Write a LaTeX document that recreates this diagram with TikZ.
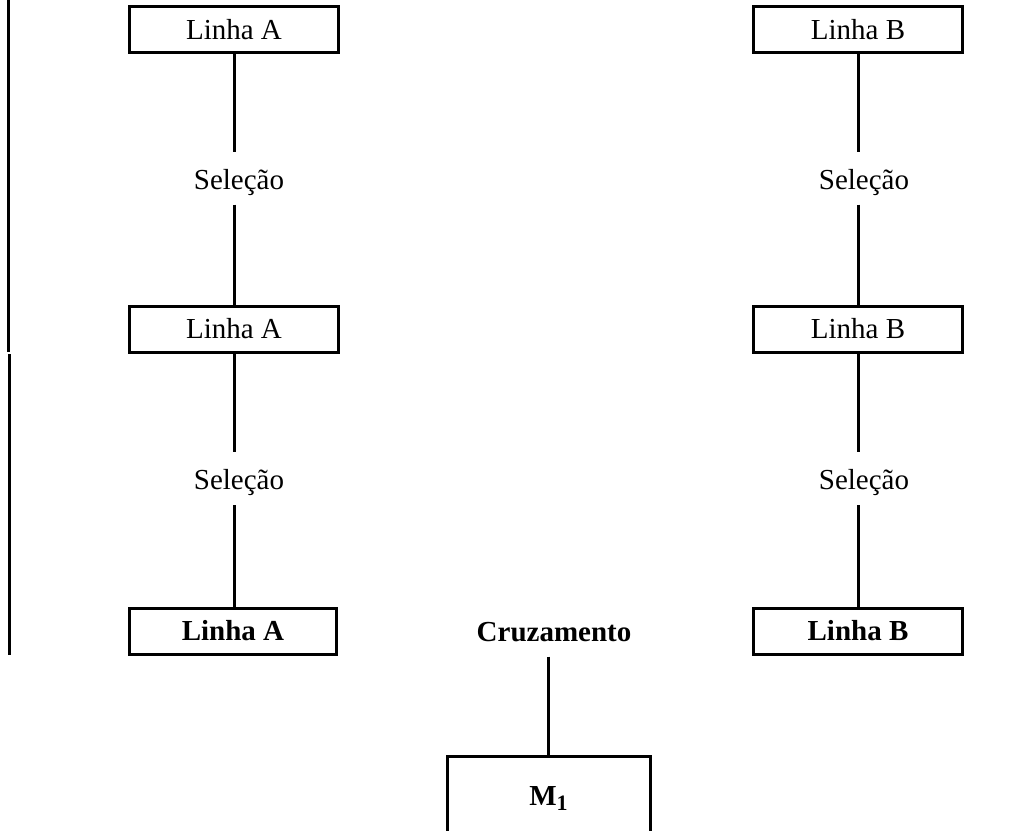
\documentclass[tikz,border=0pt]{standalone}
\usepackage{fontspec}
\setmainfont{Liberation Serif}
\begin{document}
\begin{tikzpicture}[x=1pt, y=-1pt, line width=3pt,
  linebox/.style={draw, line width=3pt, minimum width=209pt, minimum height=46pt,
    inner sep=0pt, font=\fontsize{29}{34}\selectfont},
  boldbox/.style={linebox, font=\fontsize{29}{34}\selectfont\bfseries},
  sellabel/.style={inner sep=0pt, text height=36pt, text depth=14pt,
    font=\fontsize{29}{34}\selectfont},
  link/.style={draw, line width=3pt}]
\useasboundingbox (0,0) rectangle (1028,830);
\clip (0,0) rectangle (1028,830);

% margin rule on the left
\coordinate (r1) at (8.5,0);
\coordinate (r2) at (8.5,352);
\coordinate (r3) at (9,354);
\coordinate (r4) at (9,655);
\draw[link] (r1) -- (r2);
\draw[link] (r3) -- (r4);

% line A
\node[linebox] (A1) at (234,29.5) {Linha A};
\node[sellabel] (sA1) at (239,178) {Seleção};
\node[linebox] (A2) at (234,329) {Linha A};
\node[sellabel] (sA2) at (239,478) {Seleção};
\node[boldbox, minimum width=207pt] (A3) at (233,631) {Linha A};

% line B
\node[linebox] (B1) at (858,29.5) {Linha B};
\node[sellabel] (sB1) at (864,178) {Seleção};
\node[linebox] (B2) at (858,329) {Linha B};
\node[sellabel] (sB2) at (864,478) {Seleção};
\node[boldbox] (B3) at (858,631) {Linha B};

% crossing and result
\node[inner sep=0pt, minimum height=46pt, font=\fontsize{29}{34}\selectfont\bfseries]
  (cruz) at (554,632) {Cruzamento};
\node[draw, line width=3pt, minimum width=203pt, minimum height=84pt, inner sep=0pt,
  font=\fontsize{29}{34}\selectfont\bfseries] (M1) at (548.5,798)
  {M\raisebox{-5pt}{\fontsize{22}{26}\selectfont 1}};

% connectors
\draw[link] (A1.south) -- (A1.south |- sA1.north);
\draw[link] (A2.north |- sA1.south) -- (A2.north);
\draw[link] (A2.south) -- (A2.south |- sA2.north);
\draw[link] (A3.north -| A2.south) -- (A2.south |- sA2.south);
\draw[link] (B1.south) -- (B1.south |- sB1.north);
\draw[link] (B2.north |- sB1.south) -- (B2.north);
\draw[link] (B2.south) -- (B2.south |- sB2.north);
\draw[link] (B3.north) -- (B3.north |- sB2.south);
\draw[link] (M1.north |- cruz.south) -- (M1.north);
\end{tikzpicture}
\end{document}
